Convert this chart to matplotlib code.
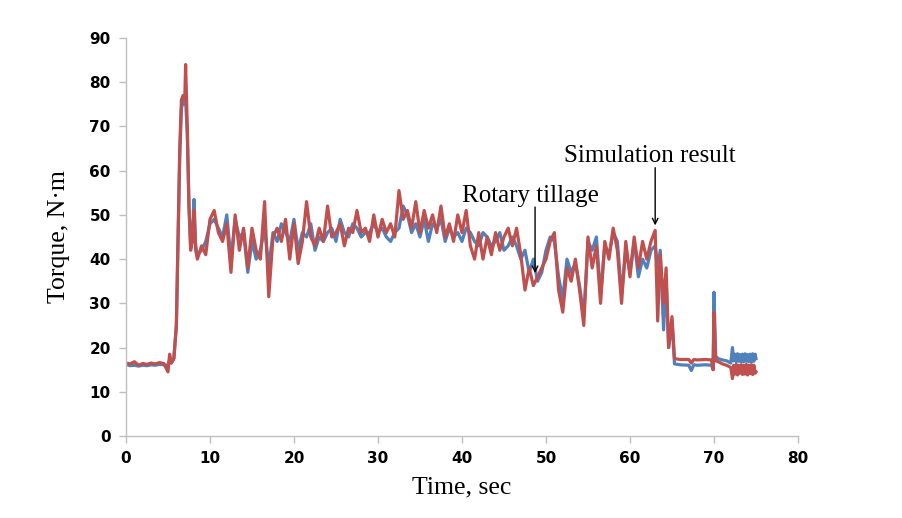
import matplotlib
matplotlib.use("Agg")
import matplotlib.pyplot as plt
from matplotlib import font_manager

# ---- data ----
time_s = [0, 0.5, 1, 1.5, 2, 2.5, 3, 3.5, 4, 4.5, 5.0, 5.2, 5.4, 5.7, 6.0, 6.2, 6.4, 6.6, 6.8, 7.0,
          7.1, 7.3, 7.5, 7.7, 7.9, 8.1, 8.3,
          8.5, 9.0, 9.5, 10.0, 10.5, 11.0, 11.5, 12.0, 12.5, 13.0, 13.5, 14.0, 14.5, 15.0, 15.5, 16.0,
          16.5, 17.0, 17.5, 18.0, 18.5, 19.0, 19.5, 20.0, 20.5, 21.0, 21.5, 22.0, 22.5, 23.0, 23.5,
          24.0, 24.5, 25.0, 25.5, 26.0, 26.5, 27.0, 27.5, 28.0, 28.5, 29.0, 29.5, 30.0, 30.5, 31.0,
          31.5, 32.0, 32.5, 33.0, 33.5, 34.0, 34.5, 35.0, 35.5, 36.0, 36.5, 37.0, 37.5, 38.0, 38.5,
          39.0, 39.5, 40.0, 40.5, 41.0, 41.5, 42.0, 42.5, 43.0, 43.5, 44.0, 44.5, 45.0, 45.5, 46.0,
          46.5, 47.0, 47.5, 48.0, 48.5, 49.0, 49.5, 50.0, 50.5, 51.0, 51.5, 52.0, 52.5, 53.0, 53.5,
          54.0, 54.5, 55.0, 55.5, 56.0, 56.5, 57.0, 57.5, 58.0, 58.5, 59.0, 59.5, 60.0, 60.5, 61.0,
          61.5, 62.0, 62.5, 63.0, 63.3, 63.6, 64.0, 64.3, 64.6, 65.0, 65.3,
          66.0, 67.0, 67.3, 67.6, 68.0, 69.0, 69.7, 69.9, 70.0, 70.2, 70.5, 71.0, 71.5, 72.0,
          72.2, 72.35, 72.5, 72.65, 72.8, 72.95, 73.1, 73.25, 73.4, 73.55, 73.7, 73.85, 74.0,
          74.15, 74.3, 74.45, 74.6, 74.75, 74.9, 75.0]

rotary_tillage = [16.2, 15.9, 16.0, 15.8, 16.0, 15.9, 16.1, 16.0, 16.2, 16.1, 16.0, 17.5, 16.5, 17.5,
                  25, 44, 63, 74, 76, 75,
                  76, 68, 52, 43, 45, 53.5, 43,
                  41, 42, 44, 48, 49, 47, 45, 50, 40, 49, 45, 46, 37, 44, 40, 42,
                  47, 38, 46, 44, 48, 46, 44, 49, 42, 46, 45, 48, 42, 45, 44,
                  46, 47, 44, 49, 46, 45, 48, 47, 45, 46, 46, 48, 46, 47, 45,
                  44, 46, 47, 52, 50, 46, 48, 45, 49, 44, 48, 47, 49, 44, 47,
                  45, 46, 44, 47, 46, 44, 43, 46, 45, 43, 44, 46, 42, 43, 45,
                  43, 40, 42, 37, 40, 35, 37, 42, 45, 44, 36, 31, 40, 37, 39,
                  34, 27, 44, 42, 45, 32, 43, 41, 46, 44, 32, 42, 37, 44, 36,
                  40, 38, 42, 43, 38, 42, 24, 36, 20, 26, 16.3,
                  16.1, 16.0, 14.8, 16.1, 16.0, 16.1, 16.0, 15.0, 32.5, 18.0, 17.5, 17.2, 17.0, 16.5,
                  20.0, 17.0, 18.5, 16.8, 18.6, 16.9, 18.4, 16.7, 18.5, 16.8, 18.6, 16.9, 18.4,
                  16.8, 18.5, 16.7, 18.6, 16.9, 18.5, 17.5]

simulation_result = [16.5, 16.3, 16.8, 16.0, 16.4, 16.2, 16.5, 16.3, 16.6, 16.4, 14.5, 18.5, 16.5, 17.5,
                     25, 45, 65, 76, 77, 76,
                     84, 70, 52, 42, 44, 51, 42,
                     40, 43, 41, 49, 51, 46, 44, 48, 37, 50, 42, 47, 38, 47, 42, 40,
                     53, 31.5, 45, 47, 44, 49, 40, 48, 39, 44, 53, 45, 43, 47, 44,
                     52, 45, 46, 48, 43, 47, 46, 51, 46, 47, 44, 50, 45, 49, 46,
                     48, 45, 55.5, 49, 51, 47, 53, 46, 51, 47, 50, 46, 52, 45, 48,
                     44, 50, 46, 51, 43, 40, 46, 40, 45, 41, 46, 42, 45, 47, 43,
                     47, 41, 33, 38, 34, 36, 38, 40, 44, 46, 33, 28, 38, 35, 40,
                     33, 25, 45, 38, 43, 30, 44, 40, 47, 42, 30, 44, 36, 45, 38,
                     44, 40, 44, 46.5, 26, 41, 30, 38, 20, 27, 17.5,
                     17.3, 17.3, 16.5, 17.3, 17.2, 17.3, 17.2, 15.0, 28.0, 17.0, 16.8, 16.3, 16.0, 15.5,
                     13.0, 16.0, 14.0, 16.2, 13.8, 16.0, 14.2, 16.1, 13.9, 16.0, 14.0, 16.2, 13.8,
                     16.0, 14.1, 16.1, 13.9, 16.0, 14.2, 14.5]

x_ticks = [0, 10, 20, 30, 40, 50, 60, 70, 80]
y_ticks = [0, 10, 20, 30, 40, 50, 60, 70, 80, 90]

# ---- fonts ----
available = {f.name for f in font_manager.fontManager.ttflist}
tick_font = "Liberation Sans Narrow" if "Liberation Sans Narrow" in available else "DejaVu Sans"
serif_font = "Liberation Serif"

fig = plt.figure(figsize=(9.03, 5.18), dpi=100)
ax = fig.add_axes([0.1395, 0.1583, 0.7442, 0.7683])

ax.plot(time_s, rotary_tillage, color="#4F81BD", lw=2.3, solid_joinstyle="round")
ax.plot(time_s, simulation_result, color="#C0504D", lw=2.3, solid_joinstyle="round")

ax.set_xlim(0, 80)
ax.set_ylim(0, 90)
ax.set_xticks(x_ticks)
ax.set_yticks(y_ticks)
for s in ["top", "right"]:
    ax.spines[s].set_visible(False)
for s in ["left", "bottom"]:
    ax.spines[s].set_color("#BFBFBF")
    ax.spines[s].set_linewidth(1.0)
ax.tick_params(axis="both", direction="out", length=5, color="#BFBFBF", width=1.0,
               labelsize=11, pad=6)
for lab in ax.get_xticklabels() + ax.get_yticklabels():
    lab.set_fontfamily(tick_font)
    lab.set_fontweight("bold")

ax.set_xlabel("Time, sec", fontfamily=serif_font, fontsize=18.5, labelpad=7)
ax.set_ylabel("Torque, N\u00b7m", fontfamily=serif_font, fontsize=18.5, labelpad=14)

ax.annotate("", xy=(48.7, 36.2), xytext=(48.7, 52.4),
            arrowprops=dict(arrowstyle="->", color="black", lw=1.0))
ax.text(48.2, 54.3, "Rotary tillage", fontfamily=serif_font, fontsize=18,
        ha="center", va="center")
ax.annotate("", xy=(63.0, 47.0), xytext=(63.0, 61.3),
            arrowprops=dict(arrowstyle="->", color="black", lw=1.0))
ax.text(62.4, 63.3, "Simulation result", fontfamily=serif_font, fontsize=18,
        ha="center", va="center")

fig.savefig("out.png", dpi=100)
